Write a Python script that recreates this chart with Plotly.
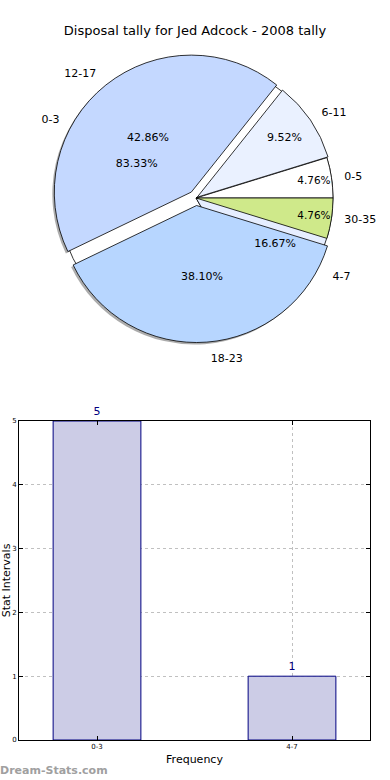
import plotly.graph_objects as go

# ---- data ----
title_text = "Disposal tally for Jed Adcock - 2008 tally"
pieA_labels = ["0-5", "6-11", "12-17", "18-23", "30-35"]
pieA_values = [1, 2, 9, 8, 1]
pieA_colors = ["#ffffff", "#eaf1ff", "#c4d8ff", "#b7d6ff", "#cfe98a"]
pieA_pull = [0, 0.01, 0.055, 0.055, 0]

pieB_labels = ["0-3", "4-7"]
pieB_values = [5, 1]
pieB_colors = ["#ffffff", "#e6eeff"]

bar_cats = ["0-3", "4-7"]
bar_vals = [5, 1]

W, H = 390, 780
FONT = "DejaVu Sans"

# pie geometry (pixels)
cx, cy, r = 196, 198, 137
label_scale = 1.07
maxpull = max(pieA_pull)


def dom(half, dx=0, dy=0):
    return dict(x=[(cx + dx - half) / W, (cx + dx + half) / W],
                y=[1 - (cy + dy + half) / H, 1 - (cy + dy - half) / H])


def start_at_three(values):
    # plotly counterclockwise pies put the first slice's clockwise edge at `rotation`
    return 90 - 360.0 * values[0] / sum(values)


rotA = start_at_three(pieA_values)
rotB = start_at_three(pieB_values)

domA = dom(r * (1 + maxpull))
domB = dom(r)
domShadow = dom(r * (1 + maxpull), dx=-2, dy=2)
domA_lab = dom(r * label_scale * (1 + maxpull))
domB_lab = dom(r * label_scale * 1.05)

common = dict(sort=False, direction="counterclockwise", automargin=False,
              hoverinfo="skip", showlegend=False)
line_black = dict(color="#000000", width=0.8)
clear5 = dict(colors=["rgba(0,0,0,0)"] * 5, line=dict(width=0))
clear2 = dict(colors=["rgba(0,0,0,0)"] * 2, line=dict(width=0))
txt = dict(family=FONT, size=11, color="#000000")

fig = go.Figure()

fig.add_trace(go.Pie(labels=pieA_labels, values=pieA_values, pull=pieA_pull,
                     domain=domShadow, textinfo="none", rotation=rotA,
                     marker=dict(colors=["rgba(70,70,70,0.45)"] * 5, line=dict(width=0)),
                     **common))
fig.add_trace(go.Pie(labels=pieB_labels, values=pieB_values, domain=domB,
                     textinfo="none", rotation=rotB,
                     marker=dict(colors=pieB_colors, line=line_black), **common))
fig.add_trace(go.Pie(labels=pieA_labels, values=pieA_values, pull=pieA_pull,
                     domain=domA, texttemplate="%{percent:.2%}", rotation=rotA,
                     textposition="inside", insidetextorientation="horizontal",
                     textfont=txt,
                     marker=dict(colors=pieA_colors, line=line_black), **common))
fig.add_trace(go.Pie(labels=pieB_labels, values=pieB_values, domain=domB,
                     texttemplate="%{percent:.2%}", textposition="inside",
                     insidetextorientation="horizontal", rotation=rotB,
                     textfont=txt, marker=clear2, **common))
fig.add_trace(go.Pie(labels=pieA_labels, values=pieA_values, pull=pieA_pull,
                     domain=domA_lab, texttemplate="%{label}", textposition="outside",
                     rotation=rotA, outsidetextfont=txt, marker=clear5, **common))
fig.add_trace(go.Pie(labels=pieB_labels, values=pieB_values, domain=domB_lab,
                     texttemplate="%{label}", textposition="outside",
                     rotation=rotB, outsidetextfont=txt, marker=clear2, **common))

fig.add_trace(go.Bar(x=bar_cats, y=bar_vals, width=0.45,
                     marker=dict(color="#ccccE6", line=dict(color="#000080", width=1)),
                     text=[str(v) for v in bar_vals], textposition="outside",
                     textfont=dict(family=FONT, size=11, color="#000080"),
                     cliponaxis=False, hoverinfo="skip", showlegend=False))

axis_common = dict(showline=True, linecolor="#000000", linewidth=1, mirror="ticks",
                   ticks="inside", ticklen=4, tickcolor="#000000", automargin=False,
                   showgrid=True, gridcolor="#c0c0c0", griddash="dot", gridwidth=1,
                   zeroline=False, tickfont=dict(family=FONT, size=7, color="#000000"))

fig.update_layout(
    width=W, height=H,
    margin=dict(l=0, r=0, t=0, b=0, autoexpand=False),
    paper_bgcolor="#ffffff", plot_bgcolor="#ffffff",
    font=dict(family=FONT, color="#000000"),
    title=dict(text=title_text, x=0.5, xanchor="center", y=1 - 30 / H, yanchor="middle",
               font=dict(family=FONT, size=13, color="#000000")),
    xaxis=dict(domain=[19 / W, 370 / W], type="category", range=[-0.4, 1.4],
               title=dict(text="Frequency", font=dict(family=FONT, size=11), standoff=4),
               **axis_common),
    yaxis=dict(domain=[1 - 740 / H, 1 - 421 / H], range=[0, 5], dtick=1,
               title=dict(text="Stat Intervals", font=dict(family=FONT, size=11), standoff=2),
               **axis_common),
    annotations=[dict(text="<b>Dream-Stats.com</b>", xref="paper", yref="paper",
                      x=-0.005, y=1 - 770 / H, xanchor="left", yanchor="middle",
                      showarrow=False, font=dict(family=FONT, size=11, color="#a0a0a0"))],
)

fig.write_html("out.html", config={"displayModeBar": False},
               post_script="document.body.style.margin='0';"
                           "document.body.style.overflow='hidden';"
                           "document.documentElement.style.overflow='hidden';")
